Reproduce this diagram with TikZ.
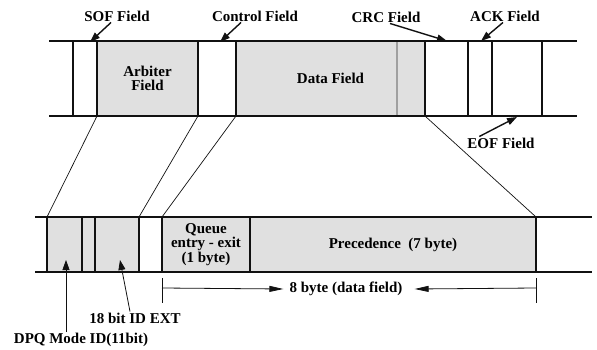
\documentclass[tikz,border=0pt]{standalone}
\usepackage{fontspec}
\setmainfont{Liberation Serif}
\usetikzlibrary{arrows.meta,positioning,calc}
\definecolor{FrameInk}{HTML}{111111}
\definecolor{FrameShade}{HTML}{E0E0E0}
\definecolor{FrameFaint}{HTML}{A0A0A0}

\begin{document}
\begin{tikzpicture}[
    x=1pt, y=-1pt,
    font=\bfseries\fontsize{15}{14.5}\selectfont,
    node distance=0pt,
    band/.style={line width=1.7pt, draw=FrameInk},
    field/.style={draw=FrameInk, line width=1.3pt, inner sep=0pt, outer sep=0pt,
      minimum height=75pt, align=center},
    shaded/.style={field, fill=FrameShade},
    lowfield/.style={field, minimum height=55pt},
    lowshaded/.style={lowfield, fill=FrameShade},
    lbl/.style={inner sep=1pt},
    link/.style={line width=0.7pt, draw=FrameInk},
    pointer/.style={-{Triangle[length=10pt,width=7pt]}, line width=1.4pt, draw=FrameInk},
    thinpointer/.style={-{Triangle[length=10pt,width=7pt]}, line width=0.8pt, draw=FrameInk},
    span/.style={-{Triangle[length=14pt,width=6pt]}, line width=0.8pt, draw=FrameInk}
  ]
    \useasboundingbox (0,0) rectangle (597,350);

    % CAN frame
    \node[field, minimum width=24pt, anchor=north west] (sof) at (73,41) {};
    \node[shaded, minimum width=101pt, right=of sof] (arb) {Arbiter\\Field};
    \node[field, minimum width=38pt, right=of arb] (ctl) {};
    \node[shaded, minimum width=161pt, right=of ctl] (data) {};
    \node[shaded, draw=FrameFaint, minimum width=28pt, right=of data] (crc) {};
    \node[field, minimum width=43pt, right=of crc] (crcdel) {};
    \node[field, minimum width=24pt, right=of crcdel] (ack) {};
    \node[field, minimum width=50pt, right=of ack] (eof) {};
    \node at ($(data.west)!0.5!(crc.east)$) (datatxt) {Data Field};

    % DPQ data layout
    \node[lowshaded, minimum width=35pt, anchor=north west] (dpq) at (47,217) {};
    \node[lowshaded, minimum width=13pt, right=of dpq] (rtr) {};
    \node[lowshaded, minimum width=44pt, right=of rtr] (ext) {};
    \node[lowfield, minimum width=23pt, right=of ext] (gap) {};
    \node[lowshaded, minimum width=88pt, right=of gap] (queue) {Queue\\entry - exit\\(1 byte)};
    \node[lowshaded, minimum width=286pt, right=of queue] (prec) {Precedence\ \ (7 byte)};

    \draw[band] (49,41) -- (577,41);
    \draw[band] (49,116) -- (577,116);
    \draw[band] (35,217) -- (592,217);
    \draw[band] (35,272) -- (592,272);

    \draw[link] (arb.south west) -- (dpq.north west);
    \draw[link] (ctl.south west) -- (ext.north east);
    \draw[link] (data.south west) -- (queue.north west);
    \draw[link] (crc.south east) -- (prec.north east);

    % labels
    \node[lbl] (soflbl) at (117,16) {SOF Field};
    \node[lbl] (ctllbl) at (255,16) {Control Field};
    \node[lbl] (crclbl) at (386,17) {CRC Field};
    \node[lbl] (acklbl) at (505,16) {ACK Field};
    \node[lbl] (eoflbl) at (501,143) {EOF Field};
    \node[lbl] (extlbl) at (135,318) {18 bit ID EXT};
    \node[lbl] (dpqlbl) at (81,340) {DPQ Mode ID(11bit)};
    \node[lbl] (spanlbl) at (346,289) {8 byte (data field)};

    \coordinate (sofpin) at (90,42);
    \coordinate (ctlpin) at (220,42);
    \coordinate (crcpin) at (447,41);
    \coordinate (ackpin) at (481,41);
    \coordinate (eofpin) at (517,117);
    \coordinate (dpqpin) at (66,260);
    \coordinate (extpin) at (120,260);

    \draw[pointer] ([xshift=-6pt]soflbl.south) -- (sofpin);
    \draw[pointer] ([xshift=-14pt]ctllbl.south) -- (ctlpin);
    \draw[pointer] ([xshift=4pt]crclbl.south) -- (crcpin);
    \draw[pointer] ([xshift=-2pt]acklbl.south) -- (ackpin);
    \draw[pointer] ([xshift=13pt]eoflbl.north west) -- (eofpin);
    \draw[thinpointer] ([xshift=-15pt]dpqlbl.north) -- (dpqpin);
    \draw[thinpointer] ([xshift=-5pt]extlbl.north) -- (extpin);

    % 8 byte span
    \coordinate (spanL) at ($(queue.south west)+(0,16)$);
    \coordinate (spanR) at ($(prec.south east)+(0,16)$);
    \draw[link] ($(queue.south west)+(0,6)$) -- ($(queue.south west)+(0,31)$);
    \draw[link] ($(prec.south east)+(0,6)$) -- ($(prec.south east)+(0,31)$);
    \draw[span] (spanL) -- ([xshift=-5pt]spanlbl.west);
    \draw[span] (spanR) -- ([xshift=11pt]spanlbl.east);
  \end{tikzpicture}
\end{document}
